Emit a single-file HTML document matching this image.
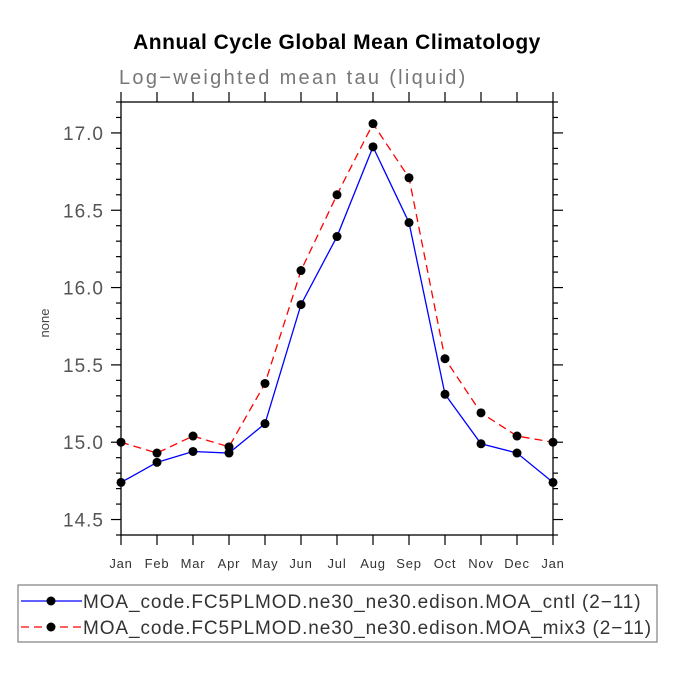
<!DOCTYPE html>
<html><head><meta charset="utf-8"><style>
body{margin:0;background:#fff}
svg text{font-family:"Liberation Sans",sans-serif}
</style></head><body>
<svg width="675" height="675" xmlns="http://www.w3.org/2000/svg">
<text x="337" y="49" text-anchor="middle" font-size="21" font-weight="bold" letter-spacing="0.5">Annual Cycle Global Mean Climatology</text>
<text x="119" y="84" font-size="20" fill="#777" letter-spacing="2.3">Log−weighted mean tau (liquid)</text>
<text transform="translate(49,323) rotate(-90)" text-anchor="middle" font-size="13" fill="#444">none</text>
<g id="axes"></g>
<g id="marks"></g>
<g>
<rect x="18" y="585" width="639" height="57" fill="none" stroke="#888" stroke-width="1.3"/>
<g>
<line x1="21" y1="601" x2="82" y2="601" stroke="#0000ff" stroke-width="1.3"/>
<circle cx="51" cy="601" r="4.5" fill="#000"/>
<text x="83" y="608" font-size="19" fill="#333" letter-spacing="0.9">MOA_code.FC5PLMOD.ne30_ne30.edison.MOA_cntl (2−11)</text>
</g>
<g>
<line x1="21" y1="627" x2="82" y2="627" stroke="#ff0000" stroke-width="1.3" stroke-dasharray="8,5"/>
<circle cx="51" cy="627" r="4.5" fill="#000"/>
<text x="83" y="634" font-size="19" fill="#333" letter-spacing="0.9">MOA_code.FC5PLMOD.ne30_ne30.edison.MOA_mix3 (2−11)</text>
</g>
</g>
</svg>
<script>
const months=["Jan","Feb","Mar","Apr","May","Jun","Jul","Aug","Sep","Oct","Nov","Dec","Jan"];
const cntl=[14.74,14.87,14.94,14.93,15.12,15.89,16.33,16.91,16.42,15.31,14.99,14.93,14.74];
const mix3=[15.00,14.93,15.04,14.97,15.38,16.11,16.60,17.06,16.71,15.54,15.19,15.04,15.00];
const yTicks=[14.5,15.0,15.5,16.0,16.5,17.0];
const yMin=14.4,yMax=17.2;
const L=121,R=553,T=102,B=535;
const NS="http://www.w3.org/2000/svg";
function xs(i){return L+(R-L)*i/(months.length-1);}
function ys(v){return B-(v-yMin)/(yMax-yMin)*(B-T);}
function mk(tag,attrs,parent){const e=document.createElementNS(NS,tag);for(const k in attrs)e.setAttribute(k,attrs[k]);parent.appendChild(e);return e;}
const ax=document.getElementById('axes');
const fr=mk('rect',{x:L,y:T,width:R-L,height:B-T,fill:'none',stroke:'#000','stroke-width':1.3},ax);


months.forEach((m,i)=>{
  const x=xs(i);
  mk('line',{x1:x,y1:B,x2:x,y2:B+10,stroke:'#000','stroke-width':1.2},ax);
  mk('line',{x1:x,y1:T,x2:x,y2:T-10,stroke:'#000','stroke-width':1.2},ax);
  const t=mk('text',{x:x,y:B+33,'text-anchor':'middle','font-size':13,fill:'#333','letter-spacing':0.8},ax);
  t.textContent=m;
  
  
});
for(let k=0;k<=Math.round((yMax-yMin)*10);k++){
  const v=yMin+k/10;const y=ys(v);
  const major=yTicks.some(t=>Math.abs(t-v)<1e-6);
  const len=major?10:5;
  mk('line',{x1:L,y1:y,x2:L-len,y2:y,stroke:'#000','stroke-width':1.2},ax);
  mk('line',{x1:R,y1:y,x2:R+len,y2:y,stroke:'#000','stroke-width':1.2},ax);
}
yTicks.forEach(v=>{
  const t=mk('text',{x:L-17,y:ys(v)+7,'text-anchor':'end','font-size':19,fill:'#555','letter-spacing':1},ax);
  t.textContent=v.toFixed(1);
  
  
});
const mg=document.getElementById('marks');
function series(vals,color,dash,name){
  const p=mk('polyline',{points:vals.map((v,i)=>xs(i)+','+ys(v)).join(' '),fill:'none',stroke:color,'stroke-width':1.3,'stroke-dasharray':dash},mg);
  
  
  vals.forEach((v,i)=>{
    const c=mk('circle',{cx:xs(i),cy:ys(v),r:4.5,fill:'#000'},mg);
    
    
  });
}
series(cntl,'#0000ff','none','cntl');
series(mix3,'#ff0000','8,5','mix3');
</script>
</body></html>
